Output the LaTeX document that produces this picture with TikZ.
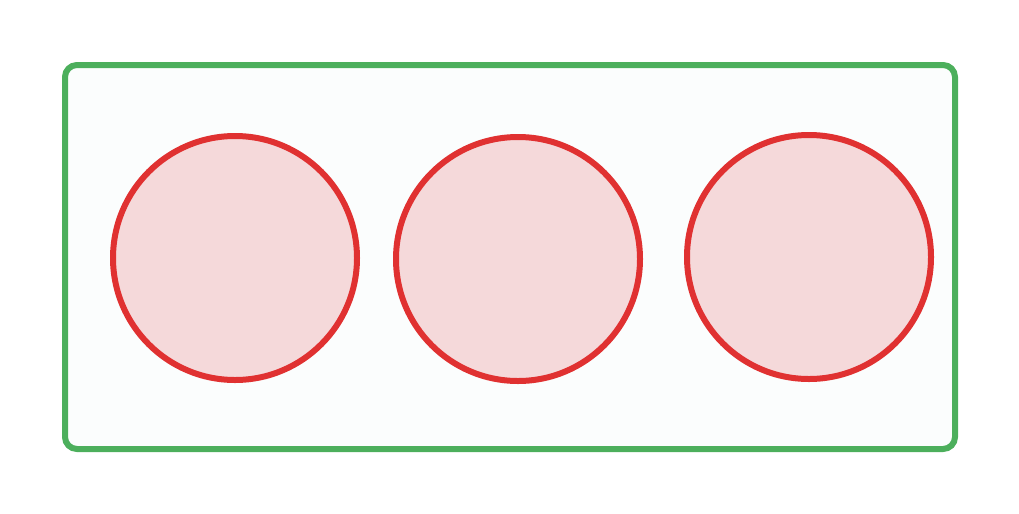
\documentclass[tikz,border=0pt]{standalone}
\usetikzlibrary{positioning}

\definecolor{boxgreen}{HTML}{4CAF5C}
\definecolor{boxfill}{HTML}{FBFDFD}
\definecolor{ballred}{HTML}{E03131}
\definecolor{ballfill}{HTML}{F5D9DA}

\begin{document}
\begin{tikzpicture}[frame/.style={draw=boxgreen,fill=boxfill,line width=0.06cm,rounded corners=0.12cm,minimum width=8.9cm,minimum height=3.84cm},
  ball/.style={circle,draw=ballred,fill=ballfill,line width=0.06cm,minimum size=2.44cm,inner sep=0pt}]
  \useasboundingbox (0,0) rectangle (10.19,5.13);
  \node[frame] (box) at (5.10,2.56) {};

  \node[ball] (left)   at (2.35,2.55) {};
  \node[ball] (middle) at (5.18,2.54) {};
  \node[ball] (right)  at (8.09,2.56) {};
\end{tikzpicture}
\end{document}
